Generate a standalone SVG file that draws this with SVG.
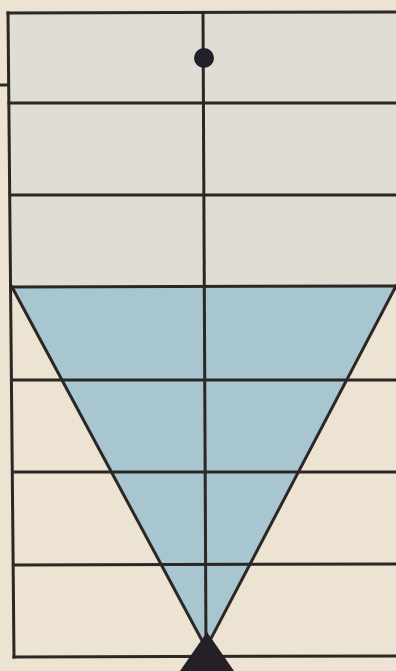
<svg xmlns="http://www.w3.org/2000/svg" width="396" height="671" viewBox="0 0 396 671">
<style>
.ln{stroke:#2a2725;stroke-width:3;fill:none;stroke-linecap:square}
</style>
<rect width="396" height="671" fill="#ede3d3"/>
<g id="upper-area">
<rect x="9" y="13" width="387" height="274" fill="#e0ded4"/>
</g>
<g id="cone">
<polygon points="12,287 396,286 206,648" fill="#a8c6d0"/>
</g>
<g id="grid" class="ln">
<line x1="8" y1="13" x2="396" y2="12"/>
<line x1="9" y1="103" x2="396" y2="103"/>
<line x1="10" y1="195" x2="396" y2="195"/>
<line x1="11" y1="287" x2="396" y2="286"/>
<line x1="12" y1="380" x2="396" y2="380"/>
<line x1="13" y1="472" x2="396" y2="472"/>
<line x1="14" y1="565" x2="396" y2="564"/>
<line x1="14" y1="657" x2="396" y2="656"/>
<line x1="8" y1="13" x2="14" y2="657"/>
<line x1="0" y1="85" x2="8" y2="85"/>
<line x1="203" y1="13" x2="206" y2="650"/>
</g>
<g id="cone-edges" class="ln">
<line x1="12" y1="287" x2="206" y2="648"/>
<line x1="396" y1="286" x2="206" y2="648"/>
</g>
<g id="top-dot">
<circle cx="204" cy="58" r="10" fill="#22202a"/>
</g>
<g id="bottom-triangle">
<polygon points="207,632 180,671 234,671" fill="#251f28"/>
</g>
</svg>
